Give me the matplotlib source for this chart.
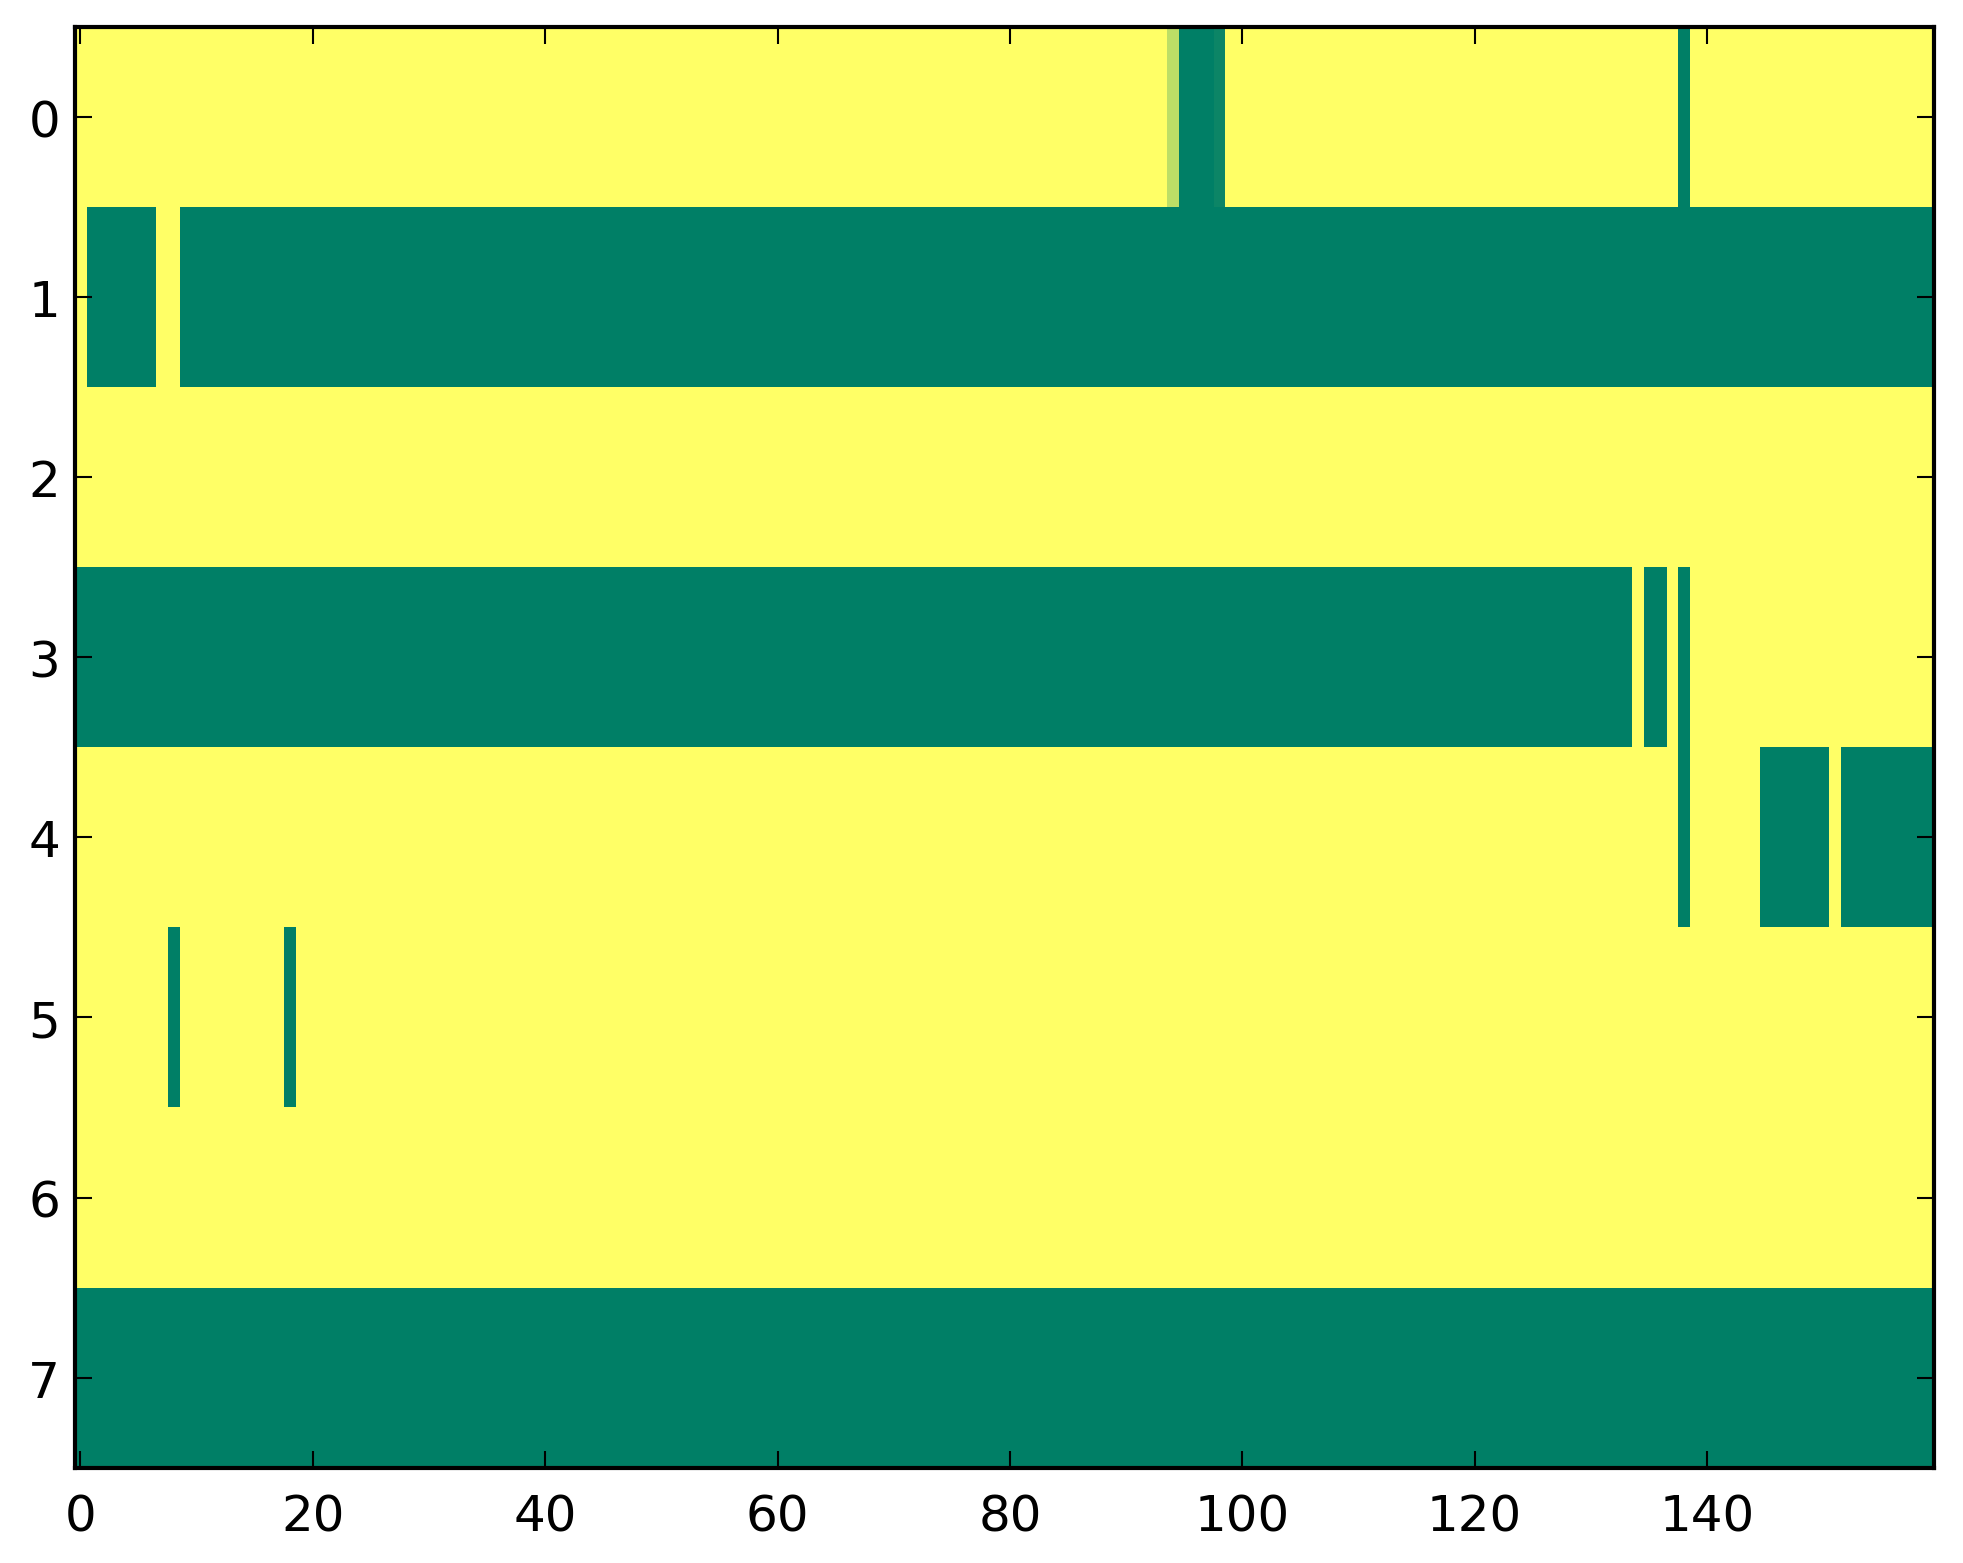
import numpy as np
import matplotlib
matplotlib.use('Agg')
import matplotlib.pyplot as plt

n_cols = 160

# each row as runs of (first column, last column, value)
row0 = [(0, 93, 1.0), (94, 94, 0.74), (95, 97, 0.0), (98, 98, 0.05),
        (99, 137, 1.0), (138, 138, 0.0), (139, 159, 1.0)]
row1 = [(0, 0, 1.0), (1, 6, 0.0), (7, 8, 1.0), (9, 159, 0.0)]
row2 = [(0, 159, 1.0)]
row3 = [(0, 133, 0.0), (134, 134, 1.0), (135, 136, 0.0), (137, 137, 1.0),
        (138, 138, 0.0), (139, 159, 1.0)]
row4 = [(0, 137, 1.0), (138, 138, 0.0), (139, 144, 1.0), (145, 150, 0.0),
        (151, 151, 1.0), (152, 159, 0.0)]
row5 = [(0, 7, 1.0), (8, 8, 0.0), (9, 17, 1.0), (18, 18, 0.0), (19, 159, 1.0)]
row6 = [(0, 159, 1.0)]
row7 = [(0, 159, 0.0)]

rows = [row0, row1, row2, row3, row4, row5, row6, row7]
grid = np.zeros((len(rows), n_cols))
for i, runs in enumerate(rows):
    for a, b, v in runs:
        grid[i, a:b + 1] = v

plt.rcParams['font.size'] = 12
plt.rcParams['xtick.direction'] = 'in'
plt.rcParams['ytick.direction'] = 'in'
plt.rcParams['xtick.major.size'] = 4
plt.rcParams['ytick.major.size'] = 4
plt.rcParams['xtick.major.width'] = 0.5
plt.rcParams['ytick.major.width'] = 0.5
plt.rcParams['xtick.top'] = True
plt.rcParams['ytick.right'] = True
plt.rcParams['axes.linewidth'] = 1.0
plt.rcParams['xtick.major.pad'] = 6
plt.rcParams['ytick.major.pad'] = 3.5

fig = plt.figure(figsize=(1963 / 300, 1564 / 300), dpi=300)
ax = fig.add_axes([0.038, 0.061, 0.947, 0.921])
ax.imshow(grid, cmap='summer', aspect='auto', interpolation='nearest', vmin=0, vmax=1)
ax.set_xticks(np.arange(0, 160, 20))
ax.set_yticks(np.arange(0, 8))
fig.savefig('out.png', dpi=300)
